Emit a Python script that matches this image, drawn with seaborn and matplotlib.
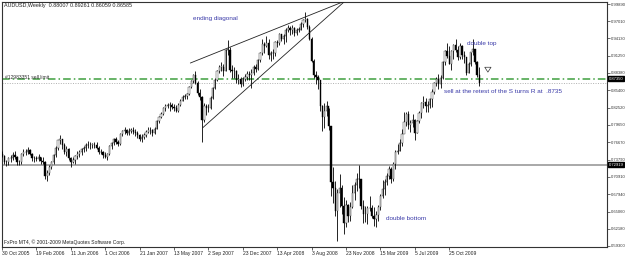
import numpy as np
import pandas as pd
import matplotlib
matplotlib.use("Agg")
import matplotlib.pyplot as plt
import seaborn as sns
from matplotlib import font_manager

# ---------------- data (weekly AUDUSD, 30 Oct 2005 .. 31 Jan 2010) ----------------
first_open = 0.7480
closes = [
 .7445,.7330,.7335,.7400,.7410,.7455,.7420,.7330,.7330,.7470,
 .7500,.7500,.7540,.7480,.7400,.7400,.7390,.7430,.7350,.7330,
 .7100,.7150,.7250,.7330,.7450,.7580,.7700,.7720,.7620,.7500,
 .7560,.7410,.7340,.7380,.7440,.7480,.7510,.7550,.7570,.7630,
 .7620,.7630,.7630,.7620,.7580,.7500,.7510,.7450,.7430,.7470,
 .7600,.7650,.7720,.7680,.7640,.7800,.7860,.7870,.7830,.7860,
 .7880,.7840,.7820,.7790,.7730,.7760,.7790,.7850,.7880,.7870,
 .7820,.7900,.8020,.8090,.8150,.8240,.8280,.8290,.8290,.8260,
 .8250,.8200,.8300,.8370,.8430,.8440,.8480,.8600,.8690,.8800,
 .8660,.8490,.8430,.8050,.8270,.8250,.8240,.8420,.8580,.8720,
 .8860,.8940,.8940,.8870,.9220,.9220,.8890,.8860,.8860,.8720,
 .8730,.8650,.8730,.8770,.8820,.8800,.8830,.8940,.8900,.9050,
 .9160,.9320,.9280,.9330,.9130,.9160,.9170,.9350,.9340,.9490,
 .9400,.9460,.9560,.9590,.9550,.9580,.9500,.9560,.9560,.9660,
 .9720,.9730,.9610,.9410,.9040,.8800,.8760,.8710,.8270,.8100,
 .8190,.8280,.7940,.7000,.6900,.6520,.6810,.6900,.6600,.6320,
 .6620,.6430,.6590,.6810,.6960,.7060,.7050,.6600,.6460,.6470,
 .6560,.6570,.6430,.6380,.6450,.6590,.6760,.6890,.7010,.7110,
 .7220,.7060,.7300,.7510,.7530,.7660,.7800,.8010,.8140,.7960,
 .7990,.8040,.7830,.8020,.8160,.8320,.8350,.8270,.8300,.8400,
 .8520,.8660,.8730,.8640,.8750,.9010,.9200,.9120,.8990,.9200,
 .9300,.9220,.9100,.9290,.9130,.9100,.8830,.8990,.9180,.9230,
 .9010,.8800,.86585]
highs = [
 .7530,.7460,.7380,.7420,.7450,.7500,.7530,.7440,.7380,.7490,
 .7560,.7560,.7590,.7550,.7490,.7440,.7440,.7470,.7430,.7420,
 .7350,.7200,.7290,.7350,.7470,.7600,.7710,.7790,.7720,.7660,
 .7600,.7570,.7430,.7420,.7460,.7520,.7540,.7570,.7600,.7660,
 .7690,.7680,.7660,.7680,.7680,.7600,.7560,.7530,.7500,.7490,
 .7620,.7670,.7740,.7760,.7710,.7820,.7880,.7920,.7900,.7910,
 .7910,.7930,.7890,.7860,.7810,.7800,.7820,.7880,.7920,.7930,
 .7900,.7930,.8040,.8110,.8180,.8260,.8310,.8330,.8350,.8330,
 .8310,.8290,.8320,.8400,.8460,.8480,.8500,.8620,.8710,.8820,
 .8870,.8690,.8560,.8450,.8320,.8310,.8310,.8440,.8600,.8740,
 .8880,.8960,.9010,.8980,.9240,.9380,.9260,.8960,.8940,.8880,
 .8820,.8760,.8760,.8820,.8870,.8870,.8900,.8960,.8990,.9070,
 .9180,.9400,.9360,.9450,.9410,.9200,.9230,.9370,.9380,.9510,
 .9490,.9480,.9580,.9640,.9620,.9640,.9600,.9580,.9600,.9680,
 .9740,.9850,.9750,.9640,.9430,.9060,.8860,.8800,.8720,.8290,
 .8320,.8360,.8240,.7950,.7250,.7020,.6880,.7130,.6950,.6750,
 .6700,.6640,.6660,.6950,.7000,.7160,.7290,.7030,.6700,.6600,
 .6600,.6760,.6620,.6580,.6520,.6610,.6800,.7040,.7060,.7150,
 .7270,.7250,.7340,.7540,.7640,.7720,.7900,.8170,.8180,.8200,
 .8050,.8140,.8060,.8040,.8200,.8340,.8440,.8420,.8370,.8420,
 .8560,.8680,.8770,.8810,.8800,.9030,.9210,.9330,.9280,.9220,
 .9310,.9400,.9280,.9330,.9300,.9200,.9100,.9020,.9190,.9400,
 .9240,.9030,.89261]
lows = [
 .7420,.7310,.7270,.7290,.7330,.7370,.7390,.7290,.7280,.7310,
 .7440,.7450,.7470,.7450,.7360,.7330,.7360,.7360,.7300,.7300,
 .7060,.7020,.7120,.7220,.7300,.7430,.7540,.7640,.7550,.7470,
 .7440,.7380,.7260,.7320,.7300,.7390,.7420,.7460,.7500,.7530,
 .7580,.7560,.7580,.7580,.7550,.7480,.7470,.7410,.7400,.7380,
 .7460,.7560,.7630,.7640,.7600,.7630,.7770,.7810,.7790,.7790,
 .7830,.7800,.7780,.7740,.7690,.7670,.7720,.7760,.7830,.7800,
 .7780,.7800,.7890,.7990,.8080,.8130,.8200,.8240,.8200,.8220,
 .8200,.8180,.8170,.8280,.8360,.8390,.8400,.8470,.8580,.8670,
 .8640,.8460,.8380,.7680,.8010,.8120,.8170,.8220,.8390,.8560,
 .8690,.8830,.8870,.8780,.8860,.9130,.8850,.8740,.8750,.8670,
 .8650,.8590,.8620,.8700,.8720,.8720,.8580,.8790,.8850,.8880,
 .9010,.9130,.9160,.9270,.9070,.9040,.9060,.9110,.9260,.9300,
 .9370,.9320,.9360,.9520,.9470,.9480,.9450,.9470,.9520,.9560,
 .9600,.9680,.9570,.9380,.9020,.8740,.8640,.8560,.8200,.7860,
 .7910,.8110,.7880,.6760,.6650,.6430,.6010,.6580,.6470,.6130,
 .6240,.6330,.6340,.6570,.6700,.6850,.6910,.6550,.6310,.6330,
 .6290,.6510,.6400,.6270,.6250,.6340,.6530,.6740,.6790,.6960,
 .7060,.6990,.7020,.7220,.7470,.7520,.7610,.7930,.7950,.7890,
 .7840,.7930,.7710,.7820,.8000,.8080,.8240,.8180,.8170,.8240,
 .8260,.8480,.8620,.8560,.8580,.8730,.8960,.9080,.8980,.8880,
 .9060,.9190,.9050,.9070,.9060,.9000,.8800,.8840,.8950,.9130,
 .8980,.8770,.86059]
opens = [first_open] + closes[:-1]
opens[-1] = 0.88007

start_date = "2005-10-30"
date_tick_pos = [0, 16, 32, 48, 64, 80, 96, 112, 128, 144, 160, 176, 192, 208]
date_tick_labels = ["30 Oct 2005", "19 Feb 2006", "11 Jun 2006", "1 Oct 2006",
                    "21 Jan 2007", "13 May 2007", "2 Sep 2007", "23 Dec 2007",
                    "13 Apr 2008", "3 Aug 2008", "23 Nov 2008", "15 Mar 2009",
                    "5 Jul 2009", "25 Oct 2009"]
price_ticks = [0.99890, 0.97010, 0.94130, 0.91250, 0.88380, 0.85400, 0.82520,
               0.79650, 0.76670, 0.73790, 0.70910, 0.67940, 0.65060, 0.62180, 0.59300]

sell_limit = 0.87350
bid = 0.86585
hline_level = 0.72919

diag_upper_x = [87.6, 159.6]
diag_upper_y = [0.8999, 1.0040]
diag_lower_x = [93.2, 159.6]
diag_lower_y = [0.7908, 1.0040]

arrow_x = 226.0
arrow_from = 0.8935
arrow_to = 0.8800

df = pd.DataFrame({"open": opens, "high": highs, "low": lows, "close": closes})
df["idx"] = np.arange(len(df))
df["date"] = pd.date_range(start_date, periods=len(df), freq="7D")

# ---------------- figure ----------------
sns.set_theme(style="white")
plt.rcParams["font.family"] = ["Liberation Sans", "DejaVu Sans"]
installed = {f.name for f in font_manager.fontManager.ttflist}
narrow = "Liberation Sans Narrow" if "Liberation Sans Narrow" in installed else "Liberation Sans"
scale_fs = 3.75 if narrow == "Liberation Sans Narrow" else 3.0

fig = plt.figure(figsize=(6.25, 2.56), dpi=100)
ax = fig.add_axes([2/625, 9/256, 605/625, 245/256])

# horizontal lines
ax.axhline(hline_level, color="#a8a8a8", lw=1.4, zorder=1)
ax.axhline(bid, color="#b0b0b0", lw=0.7, ls=(0, (1, 1.5)), zorder=1)
ax.axhline(sell_limit, color="#3f9f3f", lw=1.1, ls=(0, (5, 2, 1, 2)), zorder=1)

# candles
up = df["close"] >= df["open"]
ax.vlines(df["idx"], df["low"], df["high"], color="black", lw=0.6, zorder=3)
body_lo = np.minimum(df["open"], df["close"])
body_h = np.maximum(np.abs(df["close"] - df["open"]), 0.0008)
ax.bar(df["idx"][up], body_h[up], bottom=body_lo[up], width=0.6,
       color="white", edgecolor="#222222", linewidth=0.3, zorder=4)
ax.bar(df["idx"][~up], body_h[~up], bottom=body_lo[~up], width=0.6,
       color="black", edgecolor="black", linewidth=0.3, zorder=4)

# ending diagonal lines
diag = pd.DataFrame({"x": diag_upper_x + diag_lower_x,
                     "y": diag_upper_y + diag_lower_y,
                     "line": ["upper", "upper", "lower", "lower"]})
sns.lineplot(data=diag, x="x", y="y", units="line", estimator=None,
             color="#222222", lw=0.6, ax=ax, legend=False, zorder=5)

ax.set_xlim(0.23, 281.4)
ax.set_ylim(0.5912, 1.0023)
ax.set_xlabel("")
ax.set_ylabel("")

# axes styling
for s in ax.spines.values():
    s.set_color("#333333")
    s.set_linewidth(0.8)
ax.yaxis.tick_right()
ax.set_yticks(price_ticks)
ax.set_yticklabels([f"{v:.5f}" for v in price_ticks], family=[narrow, "DejaVu Sans"])
ax.tick_params(axis="y", direction="out", length=2, width=0.5, pad=0.8,
               labelsize=scale_fs, colors="#333333", right=True, left=False)
ax.set_xticks(date_tick_pos)
ax.set_xticklabels(date_tick_labels)
ax.tick_params(axis="x", direction="out", length=2, width=0.5, pad=0.8,
               labelsize=3.6, colors="#222222", bottom=True)
for lbl in ax.get_xticklabels():
    lbl.set_ha("left")
ax.grid(False)

# price boxes on the scale
box = dict(boxstyle="square,pad=0.12", fc="black", ec="black")
ax.text(1.003, sell_limit, "0.87350", transform=ax.get_yaxis_transform(),
        fontsize=scale_fs, color="white", va="center", ha="left", bbox=box,
        clip_on=False, family=[narrow, "DejaVu Sans"])
ax.text(1.003, hline_level, "0.72919", transform=ax.get_yaxis_transform(),
        fontsize=scale_fs, color="white", va="center", ha="left", bbox=box,
        clip_on=False, family=[narrow, "DejaVu Sans"])

# texts
txt_col = "#3a3aa8"
ax.text(0.004, 0.985, "AUDUSD,Weekly  0.88007 0.89261 0.86059 0.86585",
        transform=ax.transAxes, fontsize=3.9, color="#222222", va="center", ha="left")
ax.text(1.2, 0.8764, "#12983351 sell limit", fontsize=3.6, color="#333333",
        va="center", ha="left")
ax.text(0.7, 0.5996, "FxPro MT4, \u00a9 2001-2009 MetaQuotes Software Corp.",
        fontsize=3.6, color="#222222", va="center", ha="left")
ax.text(88.8, 0.9754, "ending diagonal", fontsize=4.6, color=txt_col, va="center", ha="left")
ax.text(216.3, 0.9335, "double top", fontsize=4.6, color=txt_col, va="center", ha="left")
ax.text(205.6, 0.8513, "sell at the retest of the S turns R at  .8735", fontsize=4.6,
        color=txt_col, va="center", ha="left")
ax.text(178.7, 0.6398, "double bottom", fontsize=4.6, color=txt_col, va="center", ha="left")

# hollow down arrow
ax.annotate("", xy=(arrow_x, arrow_to), xytext=(arrow_x, arrow_from),
            arrowprops=dict(arrowstyle="simple,head_width=0.9,head_length=0.7,tail_width=0.4",
                            fc="white", ec="#333333", lw=0.5, mutation_scale=5), zorder=6)

fig.savefig("out.png", dpi=100)
